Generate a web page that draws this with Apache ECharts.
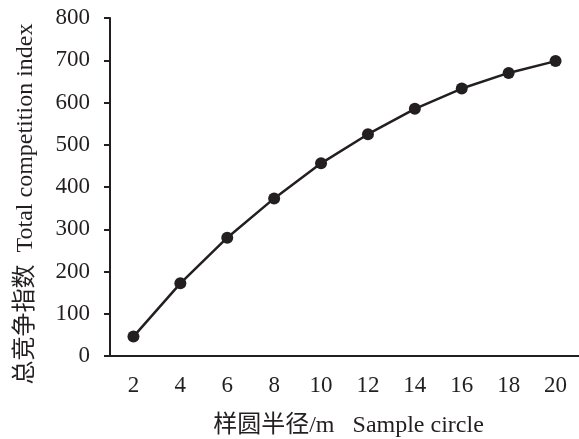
<!DOCTYPE html>
<html><head><meta charset="utf-8">
<script src="https://cdn.jsdelivr.net/npm/echarts@6/dist/echarts.min.js"></script>
<style>html,body{margin:0;padding:0;background:#fff}#c{width:579px;height:439px}</style>
</head><body><div id="c"></div>
<script>
const categories = ['2','4','6','8','10','12','14','16','18','20'];
const values = [46, 172, 280, 373, 456, 525, 585, 633, 670, 698];
const yTicks = { min: 0, max: 800, interval: 100 };
const xName = '样圆半径/m   Sample circle';
const yName = '总竞争指数  Total competition index';

const font = '"Liberation Serif", "Times New Roman", "Noto Sans CJK SC", serif';
const ink = '#231f20';
const chart = echarts.init(document.getElementById('c'));
chart.setOption({
  animation: false,
  backgroundColor: '#fff',
  grid: { left: 110, right: 0, top: 18, bottom: 83, containLabel: false, outerBoundsMode: 'none' },
  xAxis: {
    type: 'category', data: categories, boundaryGap: true,
    name: xName, nameLocation: 'middle', nameGap: 58,
    nameTextStyle: { fontFamily: font, fontSize: 24, color: ink, padding: [0, 0, 0, 8] },
    axisLine: { lineStyle: { color: ink, width: 2 } },
    axisTick: { show: false },
    axisLabel: { fontFamily: font, fontSize: 23, color: ink, margin: 18 }
  },
  yAxis: {
    type: 'value', min: yTicks.min, max: yTicks.max, interval: yTicks.interval,
    name: yName, nameLocation: 'middle', nameGap: 72, nameRotate: 90,
    nameTextStyle: { fontFamily: font, fontSize: 24, color: ink, padding: [0, 34, 0, 0] },
    axisLine: { show: true, lineStyle: { color: ink, width: 2 } },
    axisTick: { show: true, length: 6, lineStyle: { color: ink, width: 2 } },
    axisLabel: { fontFamily: font, fontSize: 23, color: ink, margin: 20 },
    splitLine: { show: false }
  },
  series: [{
    type: 'line', data: values,
    symbol: 'circle', symbolSize: 12,
    lineStyle: { color: ink, width: 2.5 },
    itemStyle: { color: ink }
  }]
});
</script></body></html>
